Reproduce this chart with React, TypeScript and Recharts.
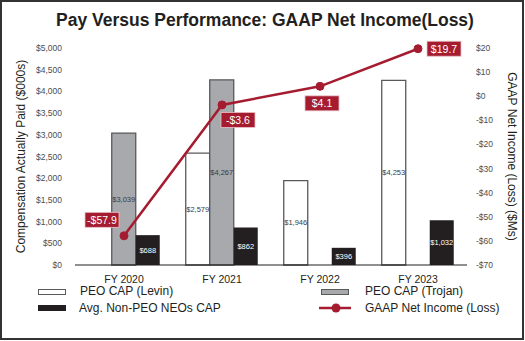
import React from 'react';
import { ComposedChart, Bar, Line, XAxis, YAxis, LabelList, Legend } from 'recharts';

const categories = ['FY 2020', 'FY 2021', 'FY 2022', 'FY 2023'];
const peoLevin: (number | null)[] = [null, 2579, 1946, 4253];
const peoTrojan: (number | null)[] = [3039, 4267, null, null];
const nonPeo: number[] = [688, 862, 396, 1032];
const netIncome: number[] = [-57.9, -3.6, 4.1, 19.7];
const leftTicks = [0, 500, 1000, 1500, 2000, 2500, 3000, 3500, 4000, 4500, 5000];
const rightTicks = [-70, -60, -50, -40, -30, -20, -10, 0, 10, 20];

const data = categories.map((c, i) => ({
  name: c,
  levin: peoLevin[i],
  trojan: peoTrojan[i],
  nonPeo: nonPeo[i],
  ni: netIncome[i],
}));

const RED = '#a51c30';
const FONT = 'Arial, "Liberation Sans", Helvetica, sans-serif';
const labelOffsets = [
  [-22, -16],
  [16, 15],
  [2, 17],
  [26, 0],
];

const money = (v: any) =>
  v === null || v === undefined ? '' : '$' + Number(v).toLocaleString('en-US');
const moneyAxis = (v: number) => (v < 0 ? '-$' + Math.abs(v) : '$' + v.toLocaleString('en-US'));

const makeBarLabel = (color: string) => (props: any) => {
  const { x, y, width, height, value } = props;
  if (value === null || value === undefined) return null;
  return (
    <text
      x={x + width / 2}
      y={y + height / 2 + 2.5}
      textAnchor="middle"
      fill={color}
      fontSize={7.5}
      fontFamily={FONT}
    >
      {money(value)}
    </text>
  );
};
const DarkBarLabel = makeBarLabel('#3a3a3c');
const LightBarLabel = makeBarLabel('#ffffff');

const NiLabel = (props: any) => {
  const { x, y, value, index } = props;
  if (value === null || value === undefined) return null;
  const [dx, dy] = labelOffsets[index] || [0, -14];
  const cx = x + dx;
  const cy = y + dy;
  const w = 34;
  const h = 15;
  const txt = (value < 0 ? '-$' : '$') + Math.abs(value).toFixed(1);
  return (
    <g>
      <rect x={cx - w / 2} y={cy - h / 2} width={w} height={h} fill={RED} stroke="#e9c3c8" strokeWidth={0.8} />
      <text x={cx} y={cy + 4} textAnchor="middle" fill="#fff" fontSize={10.5} fontFamily={FONT}>
        {txt}
      </text>
    </g>
  );
};

const LegendContent = () => (
  <div style={{ position: 'relative', width: 525, height: 40, fontFamily: FONT, fontSize: 12, color: '#231f20' }}>
    <div style={{ position: 'absolute', left: 38, top: 6, width: 26, height: 4, border: '1px solid #58595b', background: '#fff' }} />
    <div style={{ position: 'absolute', left: 80, top: 0, lineHeight: '16px' }}>PEO CAP (Levin)</div>
    <div style={{ position: 'absolute', left: 38, top: 22, width: 28, height: 6, background: '#231f20' }} />
    <div style={{ position: 'absolute', left: 79, top: 17, lineHeight: '16px' }}>Avg. Non-PEO NEOs CAP</div>
    <div style={{ position: 'absolute', left: 321, top: 6, width: 26, height: 4, border: '1px solid #58595b', background: '#a7a9ac' }} />
    <div style={{ position: 'absolute', left: 365, top: 0, lineHeight: '16px' }}>PEO CAP (Trojan)</div>
    <svg style={{ position: 'absolute', left: 317, top: 18 }} width={36} height={14}>
      <line x1={2} y1={7} x2={34} y2={7} stroke={RED} strokeWidth={2.5} />
      <circle cx={19} cy={7} r={4.5} fill={RED} />
    </svg>
    <div style={{ position: 'absolute', left: 365, top: 17, lineHeight: '16px' }}>GAAP Net Income (Loss)</div>
  </div>
);

export default function App() {
  return (
    <div style={{ position: 'absolute', left: 0, top: 0, width: 525, height: 341, background: '#fff' }}>
      <div
        style={{
          position: 'absolute',
          left: 0,
          top: 0,
          width: 524,
          height: 340,
          border: '2px solid #333',
          boxSizing: 'border-box',
        }}
      />
      <div
        style={{
          position: 'absolute',
          left: 0,
          top: 8,
          width: 530,
          textAlign: 'center',
          fontFamily: FONT,
          fontWeight: 'bold',
          fontSize: 17.5,
          color: '#231f20',
          lineHeight: '24px',
        }}
      >
        Pay Versus Performance: GAAP Net Income(Loss)
      </div>
      <div style={{ position: 'absolute', left: 0, top: 0 }}>
        <ComposedChart
          width={525}
          height={341}
          data={data}
          margin={{ top: 48, right: 0, bottom: 16, left: 0 }}
          barCategoryGap="13%"
          barGap={0}
        >
          <XAxis
            dataKey="name"
            tickLine={false}
            axisLine={{ stroke: '#231f20', strokeWidth: 1.2 }}
            tick={{ fontSize: 10.5, fill: '#231f20', fontFamily: FONT }}
            tickMargin={5}
            height={20}
          />
          <YAxis
            yAxisId="left"
            orientation="left"
            width={75}
            domain={[0, 5000]}
            ticks={leftTicks}
            interval={0}
            tickFormatter={moneyAxis}
            axisLine={false}
            tickLine={false}
            tickMargin={7}
            tick={{ fontSize: 8.5, fill: '#4d4d4f', fontFamily: FONT }}
            label={{
              value: 'Compensation Actually Paid ($000s)',
              angle: -90,
              position: 'insideLeft',
              dx: 16,
              style: { fontSize: 12, fill: '#231f20', fontFamily: FONT, textAnchor: 'middle' },
            }}
          />
          <YAxis
            yAxisId="right"
            orientation="right"
            width={58}
            domain={[-70, 20]}
            ticks={rightTicks}
            interval={0}
            tickFormatter={moneyAxis}
            axisLine={false}
            tickLine={false}
            tickMargin={3}
            tick={{ fontSize: 8.5, fill: '#4d4d4f', fontFamily: FONT }}
            label={{
              value: 'GAAP Net Income (Loss) ($Ms)',
              angle: 90,
              position: 'insideRight',
              dx: -8,
              style: { fontSize: 12, fill: '#231f20', fontFamily: FONT, textAnchor: 'middle' },
            }}
          />
          <Legend
            verticalAlign="bottom"
            align="left"
            wrapperStyle={{ position: 'absolute', left: 0, top: 283, width: 525 }}
            content={<LegendContent />}
          />
          <Bar yAxisId="left" dataKey="levin" fill="#ffffff" stroke="#58595b" strokeWidth={1.3} isAnimationActive={false}>
            <LabelList dataKey="levin" content={DarkBarLabel} />
          </Bar>
          <Bar yAxisId="left" dataKey="trojan" fill="#a7a9ac" stroke="#58595b" strokeWidth={1.3} isAnimationActive={false}>
            <LabelList dataKey="trojan" content={DarkBarLabel} />
          </Bar>
          <Bar yAxisId="left" dataKey="nonPeo" fill="#231f20" isAnimationActive={false}>
            <LabelList dataKey="nonPeo" content={LightBarLabel} />
          </Bar>
          <Line
            yAxisId="right"
            dataKey="ni"
            stroke={RED}
            strokeWidth={2.5}
            dot={{ r: 4, fill: RED, stroke: RED, strokeWidth: 1 }}
            isAnimationActive={false}
          >
            <LabelList dataKey="ni" content={<NiLabel />} />
          </Line>
        </ComposedChart>
      </div>
    </div>
  );
}
